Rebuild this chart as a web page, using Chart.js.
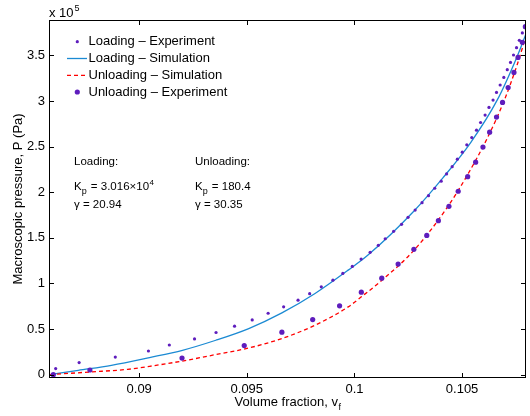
<!DOCTYPE html>
<html>
<head>
<meta charset="utf-8">
<script src="https://cdn.jsdelivr.net/npm/chart.js@4.4.0/dist/chart.umd.min.js"></script>
<style>
  html, body { margin: 0; padding: 0; background: #fff; }
  #wrap { width: 530px; height: 416px; position: relative; }
</style>
</head>
<body>
<div id="wrap"><canvas id="pressureChart"></canvas></div>
<script>
// values (volume fraction, pressure in Pa)
var loadExpX = [0.08600, 0.08612, 0.08721, 0.08889, 0.09043, 0.09140, 0.09257, 0.09357, 0.09443, 0.09525,
  0.09599, 0.09671, 0.09738, 0.09792, 0.09846, 0.09900, 0.09946, 0.09990, 0.10031, 0.10073,
  0.10111, 0.10143, 0.10182, 0.10219, 0.10249, 0.10282, 0.10314, 0.10344, 0.10373, 0.10403,
  0.10428, 0.10454, 0.10478, 0.10501, 0.10522, 0.10545, 0.10567, 0.10586, 0.10607, 0.10625,
  0.10644, 0.10660, 0.10677, 0.10694, 0.10710, 0.10725, 0.10739, 0.10753, 0.10766, 0.10780, 0.10793];
var loadExpP = [0, 6600, 13200, 19300, 25900, 32500, 39100, 46200, 53100, 60000,
  67300, 74300, 81600, 88800, 96300, 103600, 111000, 118700, 126700, 134100,
  141800, 149000, 157100, 164800, 172500, 180500, 188600, 196300, 204400, 212100,
  220100, 228100, 236300, 244000, 252000, 260000, 268100, 276500, 284600, 293000,
  301100, 309500, 317600, 325900, 334400, 342400, 350500, 358600, 366600, 374700, 381100];

var unloadExpX = [0.08601, 0.08771, 0.09199, 0.09488, 0.09663, 0.09806, 0.09931, 0.10032, 0.10127, 0.10203,
  0.10276, 0.10336, 0.10390, 0.10439, 0.10482, 0.10526, 0.10563, 0.10597, 0.10628, 0.10660,
  0.10688, 0.10714, 0.10741, 0.10760, 0.10780, 0.10794];
var unloadExpP = [0, 5100, 18200, 31900, 46500, 60400, 75400, 90400, 105800, 121200,
  137400, 152700, 168800, 184600, 201100, 217100, 233000, 249500, 265900, 282400,
  298500, 314900, 331400, 347900, 364400, 381600];

var loadSimX = [0.08586, 0.08717, 0.08871, 0.09048, 0.09201, 0.09356, 0.09509, 0.09663, 0.09817,
  0.09971, 0.10063, 0.10279, 0.10410, 0.10540, 0.10663, 0.10756, 0.10799];
var loadSimP = [0, 4700, 10200, 18700, 26700, 37700, 50500, 67700, 89000,
  114600, 131100, 180000, 215500, 254500, 301000, 349000, 375000];

var unloadSimX = [0.08586, 0.08771, 0.08947, 0.09048, 0.09201, 0.09356, 0.09509, 0.09663, 0.09817,
  0.09971, 0.10032, 0.10125, 0.10279, 0.10433, 0.10525, 0.10617, 0.10694, 0.10756, 0.10799];
var unloadSimP = [0, 2900, 5800, 9100, 14900, 22000, 29200, 39600, 54200,
  74300, 85300, 103000, 137000, 184000, 219000, 259300, 299600, 339900, 372900];

var xTickVals = [0.09, 0.095, 0.1, 0.105];
var xTickLabels = ['0.09', '0.095', '0.1', '0.105'];
var yTickVals = [0, 50000, 100000, 150000, 200000, 250000, 300000, 350000];
var yTickLabels = ['0', '0.5', '1', '1.5', '2', '2.5', '3', '3.5'];

var legendLabels = ['Loading \u2013 Experiment', 'Loading \u2013 Simulation', 'Unloading \u2013 Simulation', 'Unloading \u2013 Experiment'];

var purple = '#5e1dbd';
var blue = '#1b8ad3';
var red = '#ff0000';
var FONT = '"Liberation Sans", Arial, Helvetica, sans-serif';

function pairs(xs, ys) {
  return xs.map(function (x, i) { return { x: x, y: ys[i] }; });
}

// box, inside ticks, legend and the text notes
var decor = {
  id: 'decor',
  afterDraw: function (chart) {
    var ctx = chart.ctx, a = chart.chartArea;
    var xs = chart.scales.x, ys = chart.scales.y;
    ctx.save();
    ctx.strokeStyle = '#000';
    ctx.lineWidth = 1;
    ctx.strokeRect(a.left + 0.5, a.top + 0.5, a.right - a.left - 1, a.bottom - a.top - 1);
    ctx.beginPath();
    xTickVals.forEach(function (v) {
      var px = Math.round(xs.getPixelForValue(v)) + 0.5;
      ctx.moveTo(px, a.bottom); ctx.lineTo(px, a.bottom - 5);
      ctx.moveTo(px, a.top); ctx.lineTo(px, a.top + 5);
    });
    yTickVals.forEach(function (v) {
      var py = Math.round(ys.getPixelForValue(v)) + 0.5;
      ctx.moveTo(a.left, py); ctx.lineTo(a.left + 5, py);
      ctx.moveTo(a.right, py); ctx.lineTo(a.right - 5, py);
    });
    ctx.stroke();

    ctx.fillStyle = '#000';
    // exponent above the y axis
    ctx.font = '13px ' + FONT;
    ctx.textBaseline = 'alphabetic';
    ctx.textAlign = 'left';
    ctx.fillText('x 10', 49, 17);
    var ew = ctx.measureText('x 10').width;
    ctx.font = '9px ' + FONT;
    ctx.fillText('5', 49 + ew + 1, 11);

    // legend
    var rows = [41.7, 58.5, 75.3, 92];
    ctx.font = '13px ' + FONT;
    ctx.textBaseline = 'middle';
    legendLabels.forEach(function (t, i) {
      ctx.fillStyle = '#000';
      ctx.fillText(t, 88.5, rows[i]);
    });
    ctx.fillStyle = purple;
    ctx.beginPath(); ctx.arc(77.3, rows[0], 1.6, 0, Math.PI * 2); ctx.fill();
    ctx.beginPath(); ctx.arc(77.3, rows[3], 2.6, 0, Math.PI * 2); ctx.fill();
    ctx.lineWidth = 1.3;
    ctx.strokeStyle = blue;
    ctx.beginPath(); ctx.moveTo(67, rows[1]); ctx.lineTo(87, rows[1]); ctx.stroke();
    ctx.strokeStyle = red;
    ctx.setLineDash([4, 3]);
    ctx.beginPath(); ctx.moveTo(67, rows[2]); ctx.lineTo(87, rows[2]); ctx.stroke();
    ctx.setLineDash([]);

    // fit parameters
    ctx.fillStyle = '#000';
    ctx.textBaseline = 'alphabetic';
    function kp(x, y, rest, sup) {
      ctx.font = '11.5px ' + FONT;
      ctx.fillText('K', x, y);
      var w = ctx.measureText('K').width;
      ctx.font = '9px ' + FONT;
      ctx.fillText('p', x + w, y + 4);
      var w2 = w + ctx.measureText('p').width + 1;
      ctx.font = '11.5px ' + FONT;
      ctx.fillText(rest, x + w2, y);
      if (sup) {
        var w3 = ctx.measureText(rest).width;
        ctx.font = '8px ' + FONT;
        ctx.fillText(sup, x + w2 + w3 + 0.5, y - 5);
      }
    }
    ctx.font = '11.5px ' + FONT;
    ctx.fillText('Loading:', 74, 165);
    kp(74, 190, ' = 3.016\u00d710', '4');
    ctx.font = '11.5px ' + FONT;
    ctx.fillText('\u03b3 = 20.94', 74, 208);
    ctx.fillText('Unloading:', 195, 165);
    kp(195, 190, ' = 180.4', null);
    ctx.font = '11.5px ' + FONT;
    ctx.fillText('\u03b3 = 30.35', 195, 208);

    // x axis title with subscript
    ctx.font = '13px ' + FONT;
    var main = 'Volume fraction, v';
    var mw = ctx.measureText(main).width;
    ctx.font = '9px ' + FONT;
    var fw = ctx.measureText('f').width;
    var sx = (a.left + a.right) / 2 - (mw + fw) / 2;
    ctx.font = '13px ' + FONT;
    ctx.fillText(main, sx, 406);
    ctx.font = '9px ' + FONT;
    ctx.fillText('f', sx + mw + 0.5, 410);
    ctx.restore();
  }
};

var ctx = document.getElementById('pressureChart').getContext('2d');
var pressureChart = new Chart(ctx, {
  type: 'scatter',
  data: {
    datasets: [
      {
        label: legendLabels[0],
        data: pairs(loadExpX, loadExpP),
        pointRadius: 1.6,
        pointBackgroundColor: purple,
        pointBorderWidth: 0,
        showLine: false,
        order: 0
      },
      {
        label: legendLabels[1],
        data: pairs(loadSimX, loadSimP),
        showLine: true,
        borderColor: blue,
        borderWidth: 1.3,
        pointRadius: 0,
        cubicInterpolationMode: 'monotone',
        order: 3
      },
      {
        label: legendLabels[2],
        data: pairs(unloadSimX, unloadSimP),
        showLine: true,
        borderColor: red,
        borderWidth: 1.3,
        borderDash: [4, 3],
        pointRadius: 0,
        cubicInterpolationMode: 'monotone',
        order: 2
      },
      {
        label: legendLabels[3],
        data: pairs(unloadExpX, unloadExpP),
        pointRadius: 2.6,
        pointBackgroundColor: purple,
        pointBorderWidth: 0,
        showLine: false,
        order: 1
      }
    ]
  },
  options: {
    responsive: true,
    maintainAspectRatio: false,
    animation: false,
    layout: { padding: { top: 20, right: 1, left: 0, bottom: 0 } },
    plugins: {
      legend: { display: false },
      tooltip: { enabled: false }
    },
    scales: {
      x: {
        type: 'linear',
        min: 0.08581,
        max: 0.10797,
        grid: { display: false, drawTicks: false },
        border: { display: false },
        afterBuildTicks: function (scale) {
          scale.ticks = xTickVals.map(function (v) { return { value: v }; });
        },
        afterFit: function (scale) { scale.height = 38; },
        ticks: {
          padding: 4,
          color: '#000',
          font: { family: FONT, size: 13 },
          callback: function (value) {
            var i = xTickVals.indexOf(value);
            return i >= 0 ? xTickLabels[i] : '';
          }
        }
      },
      y: {
        type: 'linear',
        min: -3700,
        max: 388900,
        grid: { display: false, drawTicks: false },
        border: { display: false },
        afterBuildTicks: function (scale) {
          scale.ticks = yTickVals.map(function (v) { return { value: v }; });
        },
        afterFit: function (scale) { scale.width = 49; },
        title: {
          display: true,
          text: 'Macroscopic pressure, P (Pa)',
          color: '#000',
          font: { family: FONT, size: 13 },
          padding: { top: 11, bottom: 0 }
        },
        ticks: {
          padding: 4,
          color: '#000',
          font: { family: FONT, size: 13 },
          callback: function (value) {
            var i = yTickVals.indexOf(value);
            return i >= 0 ? yTickLabels[i] : '';
          }
        }
      }
    }
  },
  plugins: [decor]
});
</script>
</body>
</html>
